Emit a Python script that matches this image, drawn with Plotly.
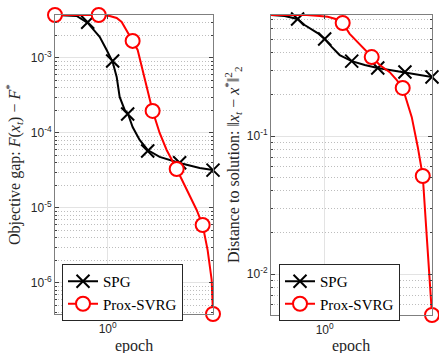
import numpy as np
import plotly.graph_objects as go

# ---------------- data ----------------
# Left panel: objective gap F(x_t) - F*
spg_obj_x = [0.5, 0.665, 0.769, 0.9, 0.987, 1.068, 1.126, 1.171, 1.251, 1.301,
             1.389, 1.523, 1.693, 1.982, 2.579, 3.357, 4.0]
spg_obj_y = [3.74e-3, 3.63e-3, 2.93e-3, 1.91e-3, 1.28e-3, 8.84e-4, 5.58e-4, 3.02e-4,
             2.03e-4, 1.85e-4, 1.2e-4, 8.07e-5, 5.93e-5, 4.79e-5, 3.98e-5, 3.41e-5, 3.21e-5]
spg_obj_mx = [0.769, 1.068, 1.301, 1.693, 2.579, 4.0]
spg_obj_my = [3.0e-3, 9.1e-4, 1.79e-4, 5.75e-5, 4.0e-5, 3.2e-5]

svrg_obj_x = [0.5, 0.889, 1.027, 1.126, 1.202, 1.284, 1.389, 1.484, 1.585, 1.693,
              1.807, 1.982, 2.173, 2.48, 2.827, 3.226, 3.49, 3.727, 3.93, 4.0]
svrg_obj_y = [3.74e-3, 3.74e-3, 3.63e-3, 3.41e-3, 3.02e-3, 2.36e-3, 1.69e-3, 1.28e-3,
              6.92e-4, 3.75e-4, 1.97e-4, 1.0e-4, 5.93e-5, 3.31e-5, 1.74e-5, 9.4e-6,
              5.93e-6, 2.75e-6, 1.1e-6, 3.86e-7]
svrg_obj_mx = [0.5, 0.889, 1.389, 1.807, 2.48, 3.49, 4.0]
svrg_obj_my = [3.74e-3, 3.74e-3, 1.69e-3, 1.97e-4, 3.31e-5, 5.93e-6, 3.86e-7]

# Right panel: distance to solution ||x_t - x*||_2^2
spg_dist_x = [0.5, 0.596, 0.705, 0.772, 0.913, 1.0, 1.095, 1.214, 1.418, 1.678,
              1.985, 2.317, 2.82, 3.417, 4.0]
spg_dist_y = [0.753, 0.741, 0.705, 0.637, 0.557, 0.505, 0.442, 0.386, 0.349, 0.327,
              0.311, 0.301, 0.291, 0.277, 0.268]
spg_dist_mx = [0.705, 1.0, 1.418, 1.985, 2.82, 4.0]
spg_dist_my = [0.705, 0.505, 0.349, 0.311, 0.291, 0.268]

svrg_dist_x = [0.5, 0.792, 0.937, 1.04, 1.153, 1.262, 1.381, 1.532, 1.678, 1.836,
               2.037, 2.317, 2.539, 2.74, 2.926, 3.08, 3.33, 3.55, 3.74, 3.84, 4.0]
svrg_dist_y = [0.753, 0.753, 0.741, 0.73, 0.705, 0.659, 0.55, 0.48, 0.42, 0.373,
               0.327, 0.29, 0.254, 0.223, 0.168, 0.137, 0.083, 0.0513, 0.0185,
               0.0107, 5.05e-3]
svrg_dist_mx = [0.5, 0.792, 1.262, 1.836, 2.74, 3.55, 4.0]
svrg_dist_my = [0.753, 0.753, 0.659, 0.373, 0.223, 0.0513, 5.05e-3]

series_names = ["SPG", "Prox-SVRG"]
x_tick_vals = [1]
x_tick_text = ["10<sup>0</sup>"]
y1_tick_vals = [1e-6, 1e-5, 1e-4, 1e-3]
y1_tick_text = ["10<sup>-6</sup>", "10<sup>-5</sup>", "10<sup>-4</sup>", "10<sup>-3</sup>"]
y2_tick_vals = [1e-2, 1e-1]
y2_tick_text = ["10<sup>-2</sup>", "10<sup>-1</sup>"]

# ---------------- styling ----------------
BLACK = "#000000"
RED = "#ff0000"
SERIF = "Liberation Serif, Times New Roman, serif"
SANS = "Liberation Sans, Arial, sans-serif"
TXT = "#262626"

fig = go.Figure()


def add_panel(xa, ya, legend, sx, sy, smx, smy, rx, ry, rmx, rmy):
    fig.add_trace(go.Scatter(x=sx, y=sy, mode="lines", xaxis=xa, yaxis=ya,
                             line=dict(color=BLACK, width=2), showlegend=False,
                             cliponaxis=False, hoverinfo="skip"))
    fig.add_trace(go.Scatter(x=smx, y=smy, mode="markers", xaxis=xa, yaxis=ya,
                             marker=dict(symbol="x-thin", size=13,
                                         line=dict(color=BLACK, width=2)),
                             showlegend=False, cliponaxis=False))
    fig.add_trace(go.Scatter(x=rx, y=ry, mode="lines", xaxis=xa, yaxis=ya,
                             line=dict(color=RED, width=2), showlegend=False,
                             cliponaxis=False, hoverinfo="skip"))
    fig.add_trace(go.Scatter(x=rmx, y=rmy, mode="markers", xaxis=xa, yaxis=ya,
                             marker=dict(symbol="circle", size=14, color="white",
                                         line=dict(color=RED, width=2)),
                             showlegend=False, cliponaxis=False))
    fig.add_trace(go.Scatter(x=[None], y=[None], mode="lines+markers", xaxis=xa, yaxis=ya,
                             name=series_names[0], legend=legend,
                             line=dict(color=BLACK, width=2),
                             marker=dict(symbol="x-thin", size=13,
                                         line=dict(color=BLACK, width=2))))
    fig.add_trace(go.Scatter(x=[None], y=[None], mode="lines+markers", xaxis=xa, yaxis=ya,
                             name=series_names[1], legend=legend,
                             line=dict(color=RED, width=2),
                             marker=dict(symbol="circle", size=14, color="white",
                                         line=dict(color=RED, width=2))))


add_panel("x", "y", "legend", spg_obj_x, spg_obj_y, spg_obj_mx, spg_obj_my,
          svrg_obj_x, svrg_obj_y, svrg_obj_mx, svrg_obj_my)
add_panel("x2", "y2", "legend2", spg_dist_x, spg_dist_y, spg_dist_mx, spg_dist_my,
          svrg_dist_x, svrg_dist_y, svrg_dist_mx, svrg_dist_my)

W, H = 439, 353


def px_x(p):
    return p / W


def px_y(p):
    return 1 - p / H


def minor_vals(lo, hi):
    vals = []
    for d in range(lo, hi):
        for m in range(2, 10):
            vals.append(m * 10.0 ** d)
    return vals


common_axis = dict(type="log", showline=True, linecolor="#7f7f7f", linewidth=1,
                   mirror="ticks", ticks="inside", ticklen=4, tickcolor="#404040",
                   tickwidth=1, showgrid=True, gridcolor="#e3e3e3", gridwidth=1,
                   zeroline=False, automargin=False,
                   tickfont=dict(family=SANS, size=12, color=TXT))

minor_axis = dict(tickmode="array", ticks="inside", ticklen=2, tickcolor="#404040",
                  showgrid=True, gridcolor="#bdbdbd", griddash="1px,2px", gridwidth=1)

xr = [np.log10(min(spg_obj_x + svrg_obj_x)), np.log10(max(spg_obj_x + svrg_obj_x))]
y1r = [np.log10(min(spg_obj_y + svrg_obj_y)), np.log10(max(spg_obj_y + svrg_obj_y))]
y2r = [np.log10(min(spg_dist_y + svrg_dist_y)), np.log10(max(spg_dist_y + svrg_dist_y))]

legend_common = dict(xanchor="left", yanchor="top", bgcolor="white",
                     bordercolor="#262626", borderwidth=1,
                     font=dict(family=SERIF, size=15, color=BLACK),
                     tracegroupgap=0, itemwidth=30)

fig.update_layout(
    width=W, height=H,
    margin=dict(l=0, r=0, t=0, b=0),
    paper_bgcolor="white", plot_bgcolor="white",
    xaxis=dict(common_axis, domain=[px_x(55), px_x(213)], range=xr, anchor="y",
               tickmode="array", tickvals=x_tick_vals, ticktext=x_tick_text,
               ticklabelstandoff=4),
    yaxis=dict(common_axis, domain=[px_y(314), px_y(15)], range=y1r, anchor="x",
               tickmode="array", tickvals=y1_tick_vals, ticktext=y1_tick_text,
               minor=dict(minor_axis, tickvals=minor_vals(-7, -2))),
    xaxis2=dict(common_axis, domain=[px_x(271), px_x(432)], range=xr, anchor="y2",
                tickmode="array", tickvals=x_tick_vals, ticktext=x_tick_text,
                ticklabelstandoff=4),
    yaxis2=dict(common_axis, domain=[px_y(315), px_y(15)], range=y2r, anchor="x2",
                tickmode="array", tickvals=y2_tick_vals, ticktext=y2_tick_text,
                minor=dict(minor_axis, tickvals=minor_vals(-3, 0))),
    legend=dict(legend_common, x=px_x(62), y=px_y(264)),
    legend2=dict(legend_common, x=px_x(279), y=px_y(264)),
    showlegend=True,
)

label_font = dict(family=SERIF, size=16, color=TXT)
annotations = [
    dict(text="Objective gap: <i>F</i>(<i>x<sub>t</sub></i>) − <i>F</i><sup>*</sup>",
         x=px_x(14), y=px_y(165), textangle=-90),
    dict(text="Distance to solution: ‖<i>x<sub>t</sub></i> − <i>x</i><sup>*</sup>‖<sup>2</sup><sub>2</sub>",
         x=px_x(233), y=px_y(165), textangle=-90),
    dict(text="epoch", x=px_x(134), y=px_y(346)),
    dict(text="epoch", x=px_x(351), y=px_y(346)),
]
for a in annotations:
    fig.add_annotation(xref="paper", yref="paper", showarrow=False,
                       xanchor="center", yanchor="middle", font=label_font, **a)

fig.write_html("out.html", config={"displayModeBar": False},
               post_script="document.body.style.margin='0';document.body.style.overflow='hidden';")
